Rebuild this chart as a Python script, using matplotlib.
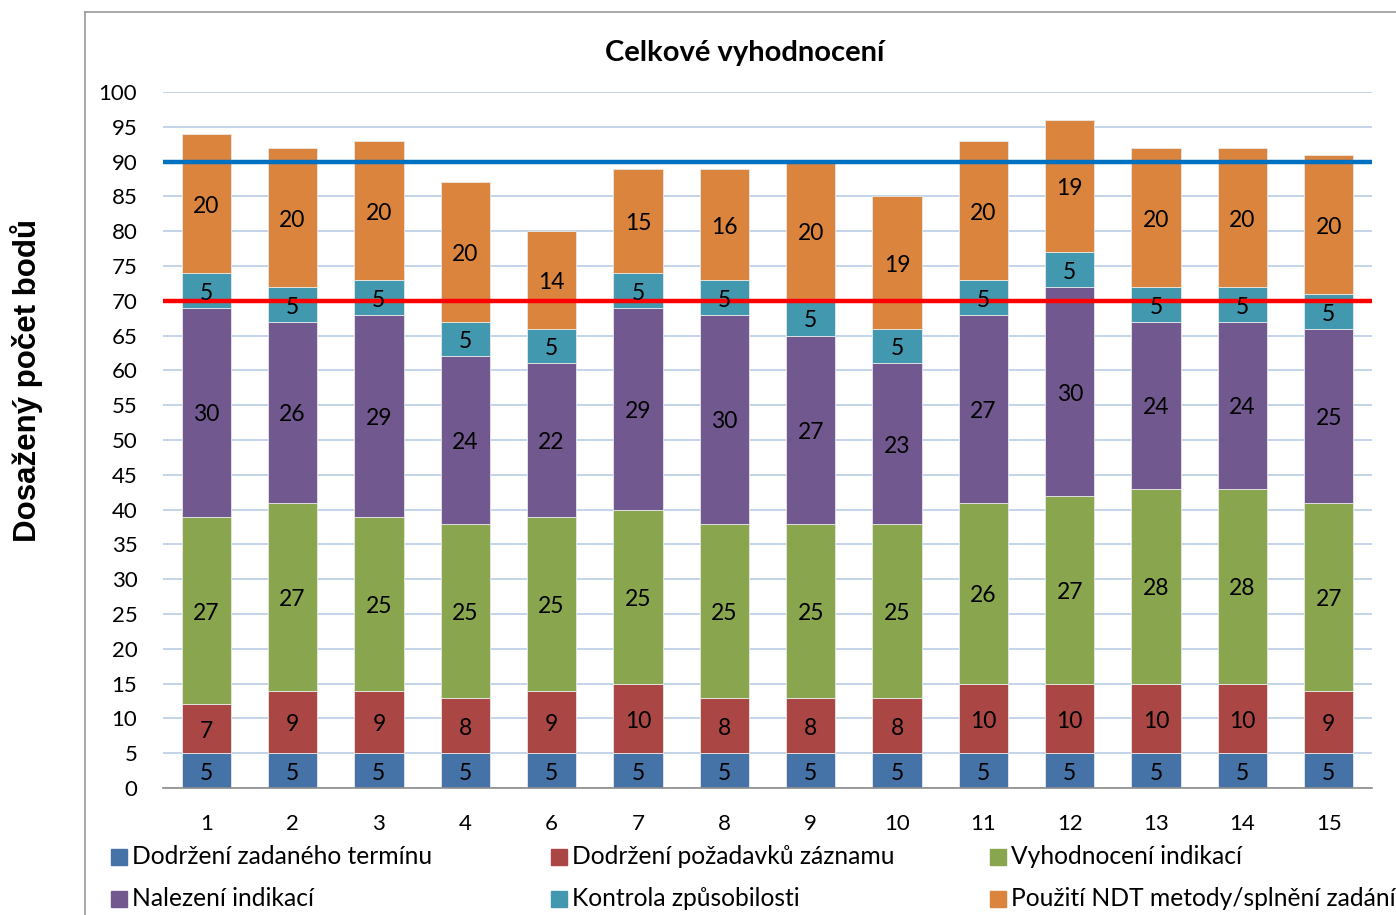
import matplotlib.pyplot as plt
from matplotlib.lines import Line2D
from matplotlib.patches import Rectangle
import numpy as np

plt.rcParams['font.family'] = ['Lato', 'DejaVu Sans']

# data
kategorie = ["1", "2", "3", "4", "6", "7", "8", "9", "10", "11", "12", "13", "14", "15"]
termin = [5, 5, 5, 5, 5, 5, 5, 5, 5, 5, 5, 5, 5, 5]
zaznam = [7, 9, 9, 8, 9, 10, 8, 8, 8, 10, 10, 10, 10, 9]
vyhodnoceni = [27, 27, 25, 25, 25, 25, 25, 25, 25, 26, 27, 28, 28, 27]
nalezeni = [30, 26, 29, 24, 22, 29, 30, 27, 23, 27, 30, 24, 24, 25]
kontrola = [5, 5, 5, 5, 5, 5, 5, 5, 5, 5, 5, 5, 5, 5]
ndt = [20, 20, 20, 20, 14, 15, 16, 20, 19, 20, 19, 20, 20, 20]
hranice_horni = 90
hranice_dolni = 70

serie = [
    ("Dodržení zadaného termínu", termin, "#4572A7"),
    ("Dodržení požadavků záznamu", zaznam, "#AA4643"),
    ("Vyhodnocení indikací", vyhodnoceni, "#89A54E"),
    ("Nalezení indikací", nalezeni, "#71588F"),
    ("Kontrola způsobilosti", kontrola, "#4198AF"),
    ("Použití NDT metody/splnění zadání", ndt, "#DB843D"),
]

W, H = 1396, 915
fig = plt.figure(figsize=(W / 100, H / 100), dpi=100)
ax = fig.add_axes([163 / W, 1 - 788 / H, (1372 - 163) / W, (788 - 92) / H])

x = np.arange(len(kategorie))
bottom = np.zeros(len(kategorie))
for nazev, hodnoty, barva in serie:
    ax.bar(x, hodnoty, 0.57, bottom=bottom, color=barva,
           edgecolor="#e8e8e8", linewidth=0.6, label=nazev, zorder=2)
    for xi, b, v in zip(x, bottom, hodnoty):
        ax.text(xi, b + v / 2 - 0.4, str(v), ha="center", va="center",
                fontsize=16.5, color="black", zorder=4)
    bottom = bottom + np.array(hodnoty)

ax.axhline(hranice_horni, color="#0070C0", lw=3.2, zorder=3)
ax.axhline(hranice_dolni, color="#FF0000", lw=3.2, zorder=3)

ax.set_xlim(-0.5, len(kategorie) - 0.5)
ax.set_ylim(0, 100)
ax.set_yticks(range(0, 101, 5))
ax.set_xticks(x)
ax.set_xticklabels(kategorie)
ax.tick_params(axis="both", length=0, labelsize=16)
ax.tick_params(axis="x", pad=19)
ax.tick_params(axis="y", pad=18.5)
ax.yaxis.grid(True, color="#B9CDE5", lw=1.2, zorder=0)
ax.set_axisbelow(True)
for s in ["top", "right", "left"]:
    ax.spines[s].set_visible(False)
ax.spines["bottom"].set_color("#8c8c8c")
ax.spines["bottom"].set_linewidth(1.2)

fig.text(745 / W, 1 - 53 / H, "Celkové vyhodnocení", ha="center", va="center",
         fontsize=21, fontweight="bold")

fig.text(27 / W, 1 - 381 / H, "Dosažený počet bodů", rotation=90, ha="center", va="center",
         fontsize=22.5, fontweight="bold", family=["Liberation Sans", "DejaVu Sans"])

# ramecek grafu
fig.add_artist(Line2D([85 / W, 85 / W], [0, 1 - 12 / H], color="#9a9a9a", lw=1.2))
fig.add_artist(Line2D([85 / W, 1], [1 - 12 / H, 1 - 12 / H], color="#9a9a9a", lw=1.2))

# legenda, 2 radky po trech
sloupce_x = [111, 551, 990]
radky_y = [857, 899]
for i, (nazev, hodnoty, barva) in enumerate(serie):
    lx = sloupce_x[i % 3]
    ly = radky_y[i // 3]
    fig.add_artist(Rectangle((lx / W, 1 - (ly + 8) / H), 16 / W, 16 / H,
                             transform=fig.transFigure, color=barva))
    fig.text((lx + 21) / W, 1 - ly / H, nazev, ha="left", va="center", fontsize=17.7)

fig.savefig("out.png", dpi=100)
